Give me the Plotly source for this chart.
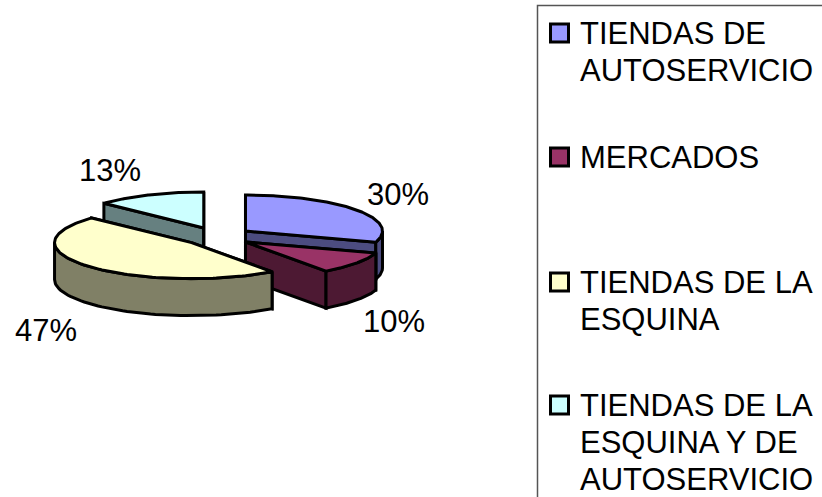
import numpy as np
import plotly.graph_objects as go

categories = ["TIENDAS DE<br>AUTOSERVICIO", "MERCADOS", "TIENDAS DE LA<br>ESQUINA", "TIENDAS DE LA<br>ESQUINA Y DE<br>AUTOSERVICIO"]
values = [30, 10, 47, 13]
top_colors = ["#9999FF", "#993366", "#FFFFCC", "#CCFFFF"]
side_colors = ["#4C4C80", "#4D1933", "#808066", "#668080"]
label_pos = [(398, 194), (394, 321), (46, 330), (110, 170)]
legend_y = [33, 157, 282, 405]

CX, CY, RX, RY, DEPTH, EX, EY = 217.5, 236.5, 137, 36, 37, 34.6, 9.3
FONT = "Liberation Sans, Arial, sans-serif"
LINE = dict(color="black", width=3)

fig = go.Figure()


def poly(xs, ys, color):
    fig.add_trace(go.Scatter(
        x=np.append(xs, xs[0]), y=np.append(ys, ys[0]), mode="lines", fill="toself",
        fillcolor=color, line=LINE, hoverinfo="skip", showlegend=False))


total = sum(values)
edges = np.cumsum([0] + values) / total * 2 * np.pi
slices = []
for i in range(len(values)):
    a0, a1 = edges[i], edges[i + 1]
    mid = (a0 + a1) / 2
    cx = CX + EX * np.sin(mid)
    cy = CY - EY * np.cos(mid)
    slices.append((i, a0, a1, cx, cy))

# back-to-front drawing order: the slices whose middle lies nearest the viewer go last
slices.sort(key=lambda s: s[4])

for i, a0, a1, cx, cy in slices:
    px = lambda a: cx + RX * np.sin(a)
    py = lambda a: cy - RY * np.cos(a)
    # radial cut faces
    for a in (a0, a1):
        poly(np.array([cx, px(a), px(a), cx]),
             np.array([cy, py(a), py(a) + DEPTH, cy + DEPTH]), side_colors[i])
    # outer wall, only the part that faces the viewer
    lo, hi = max(a0, np.pi / 2), min(a1, 3 * np.pi / 2)
    if hi > lo:
        arc = np.linspace(lo, hi, 60)
        poly(np.concatenate([px(arc), px(arc[::-1])]),
             np.concatenate([py(arc), py(arc[::-1]) + DEPTH]), side_colors[i])
    # top face
    arc = np.linspace(a0, a1, 120)
    poly(np.concatenate([[cx], px(arc)]), np.concatenate([[cy], py(arc)]), top_colors[i])

annotations = []
for v, (lx, ly) in zip(values, label_pos):
    annotations.append(dict(x=lx, y=ly, xref="x", yref="y", text=f"{v}%", showarrow=False,
                            font=dict(family=FONT, size=31, color="black")))

for name, ly in zip(categories, legend_y):
    for k, part in enumerate(name.split("<br>")):
        annotations.append(dict(x=578, y=ly + k * 37, xref="x", yref="y", text=part, showarrow=False,
                                xanchor="left", font=dict(family=FONT, size=31, color="black")))

fig.add_trace(go.Scatter(
    x=[559.5] * len(categories), y=legend_y, mode="markers", hoverinfo="skip", showlegend=False,
    marker=dict(symbol="square", size=18, color=top_colors, line=dict(color="black", width=3))))

fig.update_layout(
    width=822, height=497, margin=dict(l=0, r=0, t=0, b=0), autosize=False,
    paper_bgcolor="white", plot_bgcolor="white", showlegend=False,
    xaxis=dict(range=[0, 822], visible=False, fixedrange=True),
    yaxis=dict(range=[497, 0], visible=False, fixedrange=True),
    annotations=annotations,
    shapes=[dict(type="rect", xref="x", yref="y", x0=537.5, x1=840, y0=5.5, y1=520,
                 line=dict(color="#555555", width=1.5), layer="below")],
)
fig.write_html("out.html", config={"displayModeBar": False},
               post_script="document.body.style.margin='0';document.body.style.overflow='hidden';")
